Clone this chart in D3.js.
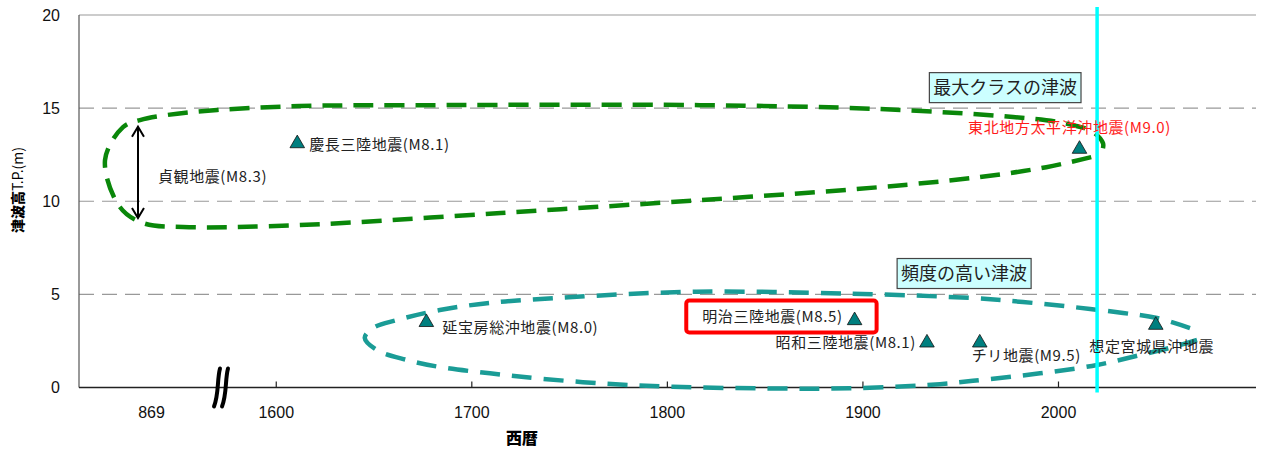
<!DOCTYPE html>
<html>
<head>
<meta charset="utf-8">
<script src="https://cdn.jsdelivr.net/npm/d3@7"></script>
<style>
  body { margin: 0; background: #fff; }
  svg { display: block; }
</style>
</head>
<body>
<script>
// ---------------- data ----------------
const eventNames = ["慶長三陸地震(M8.1)", "延宝房総沖地震(M8.0)", "明治三陸地震(M8.5)", "昭和三陸地震(M8.1)", "チリ地震(M9.5)", "想定宮城県沖地震", "東北地方太平洋沖地震(M9.0)"];
const eventYears = [1611, 1677, 1896, 1933, 1960, 2050, 2011];
const eventHeights = [13.1, 3.5, 3.6, 2.4, 2.4, 3.35, 12.8];

const joganName = "貞観地震(M8.3)";
const joganYear = 869;
const joganRange = [9.1, 14.0];

const yTicks = [0, 5, 10, 15, 20];
const xTicks = [869, 1600, 1700, 1800, 1900, 2000];
const currentYear = 2020;

// "maximum class" tsunami envelope (year, height)
const maxClassLoop = [
  [2017, 12.37], [1994, 11.83], [1960, 11.30], [1909, 10.76], [1817, 10.06],
  [1715, 9.37], [1612, 8.72], [885.4, 8.62], [864.9, 8.83], [853.1, 9.69],
  [845.5, 12.21], [854.7, 13.98], [863.4, 14.36], [877.2, 14.63], [902.8, 14.90],
  [1612, 15.11], [1680, 15.16], [1817, 15.16], [1909, 14.95], [1977, 14.52],
  [2003, 14.20], [2018, 13.71], [2023, 13.12], [2023, 12.85]
];
// "frequent" tsunami envelope (year, height)
const frequentLoop = [
  [2067.5, 3.19], [2050.6, 3.73], [2033.3, 4.00], [2007.7, 4.32], [1982.1, 4.59],
  [1956.5, 4.80], [1893.6, 5.04], [1815, 5.14], [1751.9, 4.86], [1709.5, 4.54],
  [1683.9, 4.16], [1661.9, 3.62], [1649.6, 3.19], [1645.5, 2.66], [1651.7, 2.01],
  [1667.0, 1.48], [1683.9, 1.10], [1709.5, 0.76], [1735.0, 0.48], [1769.3, 0.20],
  [1803.1, 0.04], [1850, -0.05], [1893.6, -0.04], [1939.6, 0.18], [1956.5, 0.36],
  [1990.8, 0.76], [2020, 1.21], [2041.9, 1.74], [2058.8, 2.17], [2071.1, 2.55]
];
const classTitles = ["最大クラスの津波", "頻度の高い津波"];
const classAnchors = [[1973, 16.1], [1952, 6.12]];

// ---------------- layout ----------------
const W = 1262, H = 450;
const pLeft = 79, pRight = 1256, pTop = 15, pBottom = 387.5;
const breakX = 221;

const svg = d3.select("body").append("svg").attr("width", W).attr("height", H);

// broken axis: ancient era segment + modern segment
const x = d3.scaleLinear()
  .domain([832.2, 904.8, 1572, 2101])
  .range([pLeft, breakX, breakX, 1255.5]);
const y = d3.scaleLinear().domain([0, 20]).range([pBottom, pTop]);

const FONT_CJK = "'Noto Sans CJK JP', 'Noto Sans', sans-serif";
const FONT_NUM = "'Liberation Sans', Arial, sans-serif";

// gridlines
svg.append("g").selectAll("line").data(yTicks.filter(d => d > 0)).join("line")
  .attr("x1", pLeft).attr("x2", pRight)
  .attr("y1", d => y(d)).attr("y2", d => y(d))
  .attr("stroke", "#999").attr("stroke-width", 1.2)
  .attr("stroke-dasharray", d => d === 20 ? null : "15,8");

// y tick labels
svg.append("g").selectAll("text").data(yTicks).join("text")
  .attr("x", 60).attr("y", d => y(d)).attr("dy", "0.36em")
  .attr("text-anchor", "end")
  .attr("font-family", FONT_NUM).attr("font-size", 16).attr("fill", "#111")
  .text(d => d);

// y axis line
svg.append("line").attr("x1", pLeft).attr("x2", pLeft).attr("y1", pTop).attr("y2", pBottom)
  .attr("stroke", "#555").attr("stroke-width", 1.2);

// x axis
const xAxis = d3.axisBottom(x).tickValues(xTicks).tickSizeInner(-6).tickSizeOuter(0)
  .tickPadding(19).tickFormat(d3.format("d"));
const gx = svg.append("g").attr("transform", `translate(0,${pBottom})`).call(xAxis);
gx.select(".domain").attr("stroke", "#222").attr("stroke-width", 1.5).attr("d", `M${pLeft},0H${pRight}`);
gx.selectAll(".tick line").attr("stroke", "#222").attr("stroke-width", 1.2)
  .filter(d => d === 869).remove();
gx.selectAll(".tick text").attr("font-family", FONT_NUM).attr("font-size", 16).attr("fill", "#111");

// axis break marks
const brk = svg.append("g").attr("fill", "none").attr("stroke", "#000").attr("stroke-width", 4).attr("stroke-linecap", "round");
[-4, 4].forEach(off => {
  const cx = breakX + off;
  brk.append("path").attr("d", `M${cx + 3},${pBottom - 19} C${cx},${pBottom - 8} ${cx + 2},${pBottom + 6} ${cx - 3},${pBottom + 19}`);
});

// axis titles
svg.append("text").attr("x", 522).attr("y", 438).attr("dy", "0.35em").attr("text-anchor", "middle")
  .attr("font-family", FONT_CJK).attr("font-size", 16).attr("font-weight", 900).attr("fill", "#000")
  .text("西暦");
const yt = svg.append("text").attr("transform", "translate(18,190) rotate(-90)")
  .attr("text-anchor", "middle").attr("dy", "0.35em")
  .attr("font-family", FONT_CJK).attr("font-size", 14).attr("fill", "#000");
yt.append("tspan").attr("font-weight", 900).text("津波高");
yt.append("tspan").text("T.P.(m)");

// envelopes
const loopLine = d3.line().x(d => x(d[0])).y(d => y(d[1])).curve(d3.curveCatmullRom.alpha(0.5));
svg.append("path").datum(maxClassLoop).attr("d", loopLine)
  .attr("fill", "none").attr("stroke", "#0a870a").attr("stroke-width", 4.5)
  .attr("stroke-dasharray", "20,11");
svg.append("path").datum(frequentLoop).attr("d", loopLine)
  .attr("fill", "none").attr("stroke", "#1a9c96").attr("stroke-width", 4.5)
  .attr("stroke-dasharray", "20,12");

// current year line
svg.append("line").attr("x1", x(currentYear)).attr("x2", x(currentYear))
  .attr("y1", pTop - 8).attr("y2", pBottom + 5)
  .attr("stroke", "#00ffff").attr("stroke-width", 3.5);

// Jogan arrow
const ax = x(joganYear) - 13;
const arr = svg.append("g").attr("stroke", "#000").attr("stroke-width", 2).attr("fill", "none");
arr.append("line").attr("x1", ax).attr("x2", ax).attr("y1", y(joganRange[1])).attr("y2", y(joganRange[0]));
arr.append("path").attr("d", `M${ax - 6},${y(joganRange[1]) + 10} L${ax},${y(joganRange[1])} L${ax + 6},${y(joganRange[1]) + 10}`);
arr.append("path").attr("d", `M${ax - 6},${y(joganRange[0]) - 10} L${ax},${y(joganRange[0])} L${ax + 6},${y(joganRange[0]) - 10}`);
svg.append("text").attr("x", ax + 20).attr("y", y((joganRange[0] + joganRange[1]) / 2) + 4).attr("dy", "0.35em")
  .attr("font-family", FONT_CJK).attr("font-size", 15).attr("letter-spacing", 0.6).attr("fill", "#222")
  .text(joganName);

// event markers
const events = eventNames.map((n, i) => ({ name: n, year: eventYears[i], h: eventHeights[i] }));
const labelLayout = [
  { dx: 12, dy: 1, anchor: "start" },
  { dx: 16, dy: 5, anchor: "start" },
  { dx: -12, dy: -4, anchor: "end" },
  { dx: -11, dy: 0, anchor: "end" },
  { dx: -8, dy: 13, anchor: "start" },
  { dx: -4, dy: 22, anchor: "middle" },
  { dx: -10, dy: -21, anchor: "middle" }
];

const meijiIdx = 2;
const mx = x(eventYears[meijiIdx]), my = y(eventHeights[meijiIdx]);
const labels = svg.append("g");
events.forEach((e, i) => {
  const L = labelLayout[i];
  labels.append("text")
    .attr("x", x(e.year) + L.dx).attr("y", y(e.h) + L.dy).attr("dy", "0.35em")
    .attr("text-anchor", L.anchor)
    .attr("font-family", FONT_CJK).attr("font-size", 15).attr("letter-spacing", 0.6)
    .attr("fill", i === 6 ? "#ff1a1a" : "#222")
    .text(e.name);
});
const meijiText = labels.selectAll("text").filter((d, i) => i === meijiIdx).node();
const mLen = meijiText.getComputedTextLength();
svg.append("rect")
  .attr("x", mx - 12 - mLen - 16).attr("y", my - 20)
  .attr("width", mLen + 16 + 12 + 22).attr("height", 32)
  .attr("rx", 3).attr("fill", "none").attr("stroke", "#ff0000").attr("stroke-width", 4);

svg.append("g").selectAll("path").data(events).join("path")
  .attr("transform", d => `translate(${x(d.year)},${y(d.h)})`)
  .attr("d", d3.symbol().type(d3.symbolTriangle).size(92))
  .attr("fill", "#007f7f").attr("stroke", "#111").attr("stroke-width", 0.8);

// class title boxes
classTitles.forEach((t, i) => {
  const g = svg.append("g");
  const cx = x(classAnchors[i][0]), cy = y(classAnchors[i][1]);
  const tx = g.append("text").attr("x", cx).attr("y", cy).attr("dy", "0.36em")
    .attr("text-anchor", "middle")
    .attr("font-family", FONT_CJK).attr("font-size", 18).attr("fill", "#222").text(t);
  const w = tx.node().getComputedTextLength() + 8;
  g.insert("rect", "text").attr("x", cx - w / 2).attr("y", cy - 15).attr("width", w).attr("height", 30)
    .attr("fill", "#ccffff").attr("stroke", "#444").attr("stroke-width", 1.2);
});
</script>
</body>
</html>
